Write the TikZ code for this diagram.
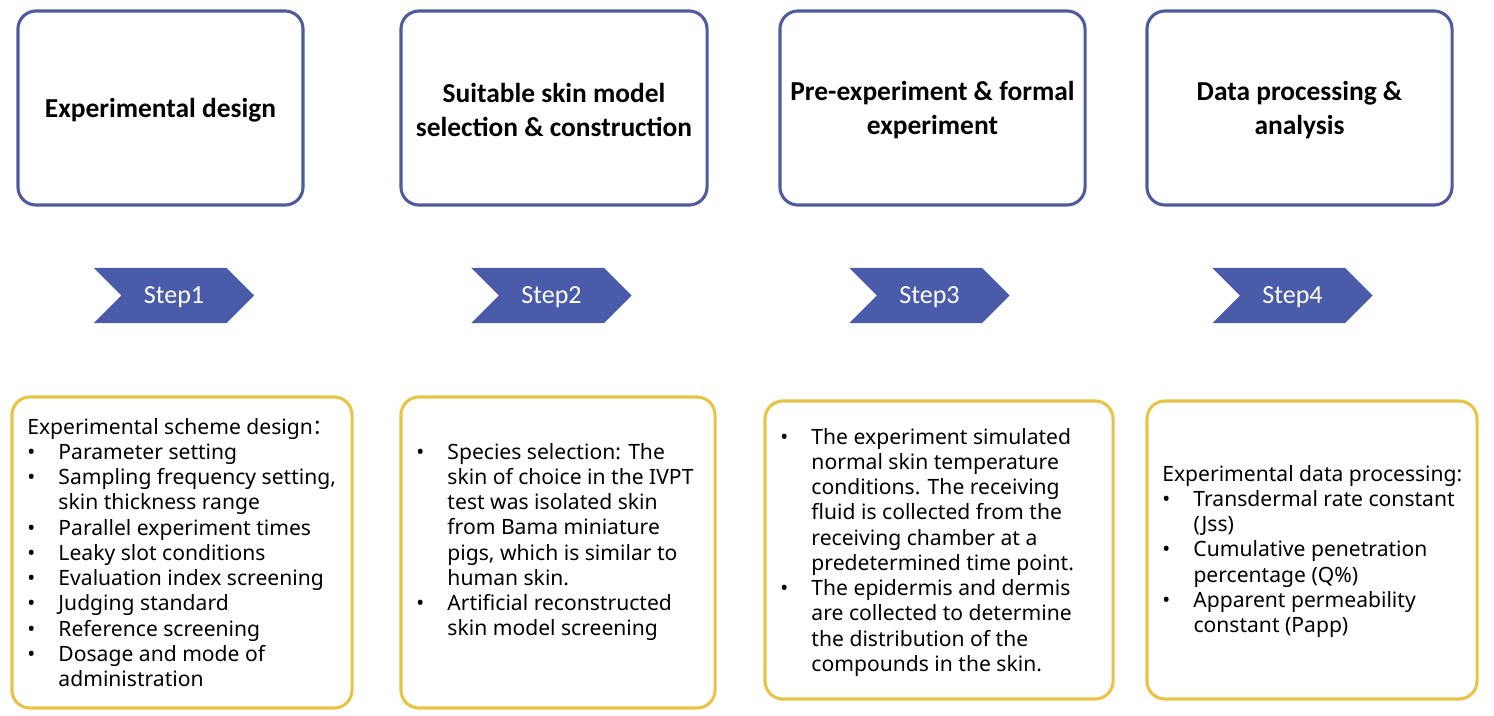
\documentclass[tikz,border=0pt]{standalone}
\usepackage{fontspec}
\setmainfont{Noto Sans}
\newfontfamily\calibri{Carlito}
\newfontfamily\cjk{Noto Sans CJK SC}
\usetikzlibrary{shapes.symbols, positioning}
\definecolor{StageBlue}{RGB}{80, 91, 158}
\definecolor{ArrowBlue}{RGB}{74, 91, 170}
\definecolor{NoteGold}{RGB}{232, 196, 70}
\newcommand{\bl}{\makebox[0.78cm][l]{\textbullet}}
\newcommand{\gap}{\hspace*{0.78cm}}

\tikzset{
  stage/.style={draw=StageBlue, line width=2.2pt, rounded corners=0.45cm, fill=white,
    align=center, inner sep=0pt, minimum height=4.85cm},
  stagetitle/.style={align=center, inner sep=0pt,
    font=\calibri\bfseries\fontsize{19.5}{24.1}\selectfont},
  chev/.style={signal, signal to=east, signal from=west, fill=ArrowBlue, text=white,
    minimum width=4cm, minimum height=1.375cm, inner sep=0pt, text depth=0pt,
    font=\calibri\fontsize{18.5}{22}\selectfont},
  note/.style={draw=NoteGold, line width=2.2pt, rounded corners=0.45cm},
  notetext/.style={anchor=north west, align=left, inner sep=0pt,
    font=\fontsize{15}{17.93}\selectfont}
}

\begin{document}
\begin{tikzpicture}[x=0.025cm, y=-0.025cm]
  \useasboundingbox (0,0) rectangle (1494,716);
  \fill[white] (0,0) rectangle (1494,716);
  % Stage boxes
  \node[stage, minimum width=7.125cm] (stage1) at (160.5,108) {};
  \node[stage, minimum width=7.65cm] (stage2) at (554,108) {};
  \node[stage, minimum width=7.625cm] (stage3) at (932.5,108) {};
  \node[stage, minimum width=7.625cm] (stage4) at (1299.5,108) {};
  \node[stagetitle] (title1) at ([yshift=-0.06cm]stage1.center) {Experimental design};
  \node[stagetitle] (title2) at ([yshift=-0.05cm]stage2.center) {Suitable skin model\\selection \& construction};
  \node[stagetitle] (title3) at ([yshift=-0.05cm]stage3.center) {Pre-experiment \& formal\\experiment};
  \node[stagetitle] (title4) at ([yshift=-0.05cm]stage4.center) {Data processing \&\\analysis};
  % Step arrows
  \foreach \i/\x in {1/174, 2/551.5, 3/929.5, 4/1292.5} {
    \node[chev] (step\i) at (\x,295.5) {Step\i};
  }
  % Note boxes
  \node[note, minimum width=8.5cm, minimum height=7.775cm] (note1) at (182,552.5) {};
  \node[note, minimum width=7.85cm, minimum height=7.775cm] (note2) at (558,552.5) {};
  \node[note, minimum width=8.7cm, minimum height=7.45cm] (note3) at (939,550) {};
  \node[note, minimum width=8.25cm, minimum height=7.45cm] (note4) at (1312,550) {};
  % Note texts
  \node[notetext] (text1) at (27,418) {Experimental scheme design{\cjk ：}\\
    \bl Parameter setting\\
    \bl Sampling frequency setting,\\
    \gap skin thickness range\\
    \bl Parallel experiment times\\
    \bl Leaky slot conditions\\
    \bl Evaluation index screening\\
    \bl Judging standard\\
    \bl Reference screening\\
    \bl Dosage and mode of\\
    \gap administration};
  \node[notetext] (text2) at (416,443) {\bl Species selection: The\\
    \gap skin of choice in the IVPT\\
    \gap test was isolated skin\\
    \gap from Bama miniature\\
    \gap pigs, which is similar to\\
    \gap human skin.\\
    \bl Artificial reconstructed\\
    \gap skin model screening};
  \node[notetext] (text3) at (780,428) {\bl The experiment simulated\\
    \gap normal skin temperature\\
    \gap conditions. The receiving\\
    \gap fluid is collected from the\\
    \gap receiving chamber at a\\
    \gap predetermined time point.\\
    \bl The epidermis and dermis\\
    \gap are collected to determine\\
    \gap the distribution of the\\
    \gap compounds in the skin.};
  \node[notetext] (text4) at (1162,465) {Experimental data processing:\\
    \bl Transdermal rate constant\\
    \gap (Jss)\\
    \bl Cumulative penetration\\
    \gap percentage (Q\%)\\
    \bl Apparent permeability\\
    \gap constant (Papp)};
\end{tikzpicture}
\end{document}
